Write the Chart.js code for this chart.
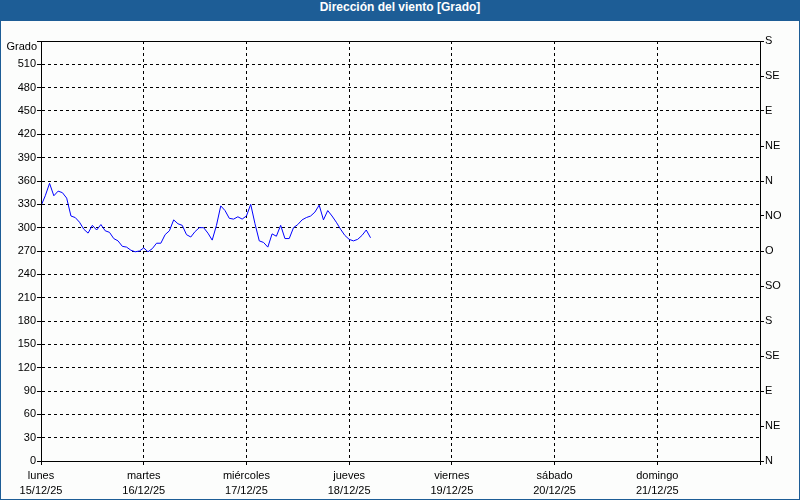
<!DOCTYPE html>
<html>
<head>
<meta charset="utf-8">
<script src="https://cdn.jsdelivr.net/npm/chart.js@4"></script>
<style>
  html, body { margin: 0; padding: 0; background: #fff; }
  #frame {
    width: 800px; height: 500px; box-sizing: border-box;
    border: 1px solid #1d5d96; border-top: 0; background: #fcfdfc;
  }
  #title {
    height: 21px; line-height: 21px; background: #1d5d96; color: #fff;
    text-align: center; font: bold 12px 'Liberation Sans', Arial, sans-serif;
    margin: 0 -1px;
  }
  #wrap { position: relative; width: 798px; height: 478px; }
</style>
</head>
<body>
<div id="frame">
  <div id="title">Dirección del viento [Grado]</div>
  <div id="wrap"><canvas id="windChart"></canvas></div>
</div>
<script>
// Hourly wind direction starting Monday 15/12/25 00:00
const windDir = [
  328, 341, 357, 341, 347, 345, 338, 315, 313, 307,
  298, 293, 303, 297, 304, 296, 294, 286, 283, 276,
  275, 271, 269, 270, 274, 269, 273, 280, 280, 291,
  296, 310, 305, 303, 291, 288, 295, 300, 300, 293,
  284, 303, 328, 322, 312, 311, 314, 311, 315, 330,
  305, 283, 281, 275, 292, 289, 303, 286, 286, 300,
  304, 310, 313, 315, 320, 329, 310, 322, 315, 307,
  298, 290, 285, 283, 285, 290, 297, 287
];
const dayNames = ['lunes', 'martes', 'miércoles', 'jueves', 'viernes', 'sábado', 'domingo'];
const dayDates = ['15/12/25', '16/12/25', '17/12/25', '18/12/25', '19/12/25', '20/12/25', '21/12/25'];
const compass = ['N', 'NE', 'E', 'SE', 'S', 'SO', 'O', 'NO', 'N', 'NE', 'E', 'SE', 'S'];

Chart.defaults.font.family = "'Liberation Sans', Arial, sans-serif";
Chart.defaults.font.size = 11;
Chart.defaults.color = '#000';

// solid frame round the plot + the "Grado" unit label
const framePlugin = {
  id: 'frame',
  afterDraw(chart) {
    const a = chart.chartArea;
    const ctx = chart.ctx;
    ctx.save();
    ctx.strokeStyle = '#000';
    ctx.lineWidth = 1;
    ctx.setLineDash([]);
    ctx.strokeRect(Math.round(a.left) + 0.5, Math.round(a.top) + 0.5,
      Math.round(a.right - a.left), Math.round(a.bottom - a.top));
    ctx.fillStyle = '#000';
    ctx.font = "11px 'Liberation Sans', Arial, sans-serif";
    ctx.textAlign = 'right';
    ctx.textBaseline = 'middle';
    ctx.fillText('Grado', a.left - 4, a.top + 6);
    ctx.restore();
  }
};

new Chart(document.getElementById('windChart'), {
  type: 'line',
  data: {
    datasets: [{
      data: windDir.map((v, i) => ({ x: i, y: v })),
      borderColor: '#0000ff',
      borderWidth: 1,
      pointRadius: 0,
      tension: 0,
      yAxisID: 'y'
    }]
  },
  options: {
    responsive: true,
    maintainAspectRatio: false,
    animation: false,
    layout: { padding: { top: 20, left: 0, right: 0, bottom: 0 } },
    plugins: { legend: { display: false }, tooltip: { enabled: false } },
    scales: {
      x: {
        type: 'linear',
        min: 0,
        max: 168,
        afterFit(scale) { scale.height = 38; },
        grid: { color: '#000', tickLength: 4, tickBorderDash: [] },
        border: { display: true, color: '#000', dash: [3, 3] },
        ticks: {
          stepSize: 24,
          autoSkip: false,
          maxRotation: 0,
          padding: 3,
          font: { lineHeight: 1.4 },
          callback(value) {
            const i = value / 24;
            return i < dayNames.length ? [dayNames[i], dayDates[i]] : '';
          }
        }
      },
      y: {
        position: 'left',
        min: 0,
        max: 540,
        afterFit(scale) { scale.width = 40; },
        grid: { color: '#000', tickLength: 4, tickBorderDash: [] },
        border: { display: true, color: '#000', dash: [3, 3] },
        ticks: {
          stepSize: 30,
          padding: 1,
          callback(value) { return value === 540 ? '' : value; }
        }
      },
      y2: {
        position: 'right',
        min: 0,
        max: 540,
        afterFit(scale) { scale.width = 39; },
        grid: { drawOnChartArea: false, color: '#000', tickLength: 4 },
        border: { display: true, color: '#000' },
        ticks: {
          stepSize: 45,
          padding: 1,
          callback(value) { return compass[value / 45]; }
        }
      }
    }
  },
  plugins: [framePlugin]
});
</script>
</body>
</html>
